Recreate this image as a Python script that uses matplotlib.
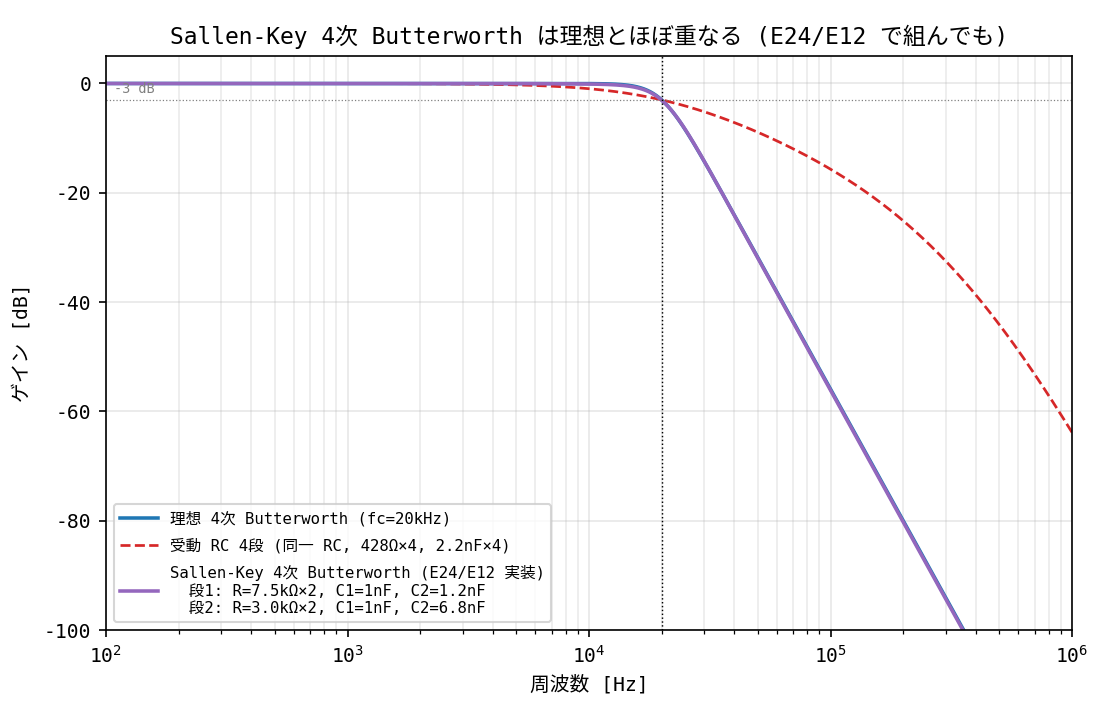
import numpy as np
import matplotlib
matplotlib.use("Agg")
import matplotlib.pyplot as plt
from matplotlib import font_manager as fm

avail = {f.name for f in fm.fontManager.ttflist}
fams = [f for f in ["DejaVu Sans Mono", "Noto Sans CJK JP", "DejaVu Sans"] if f in avail]
plt.rcParams['font.family'] = fams
plt.rcParams['axes.unicode_minus'] = False

fc_ideal = 20e3          # ideal Butterworth cutoff
order = 4
R_rc = 428.0             # passive RC ladder
C_rc = 2.2e-9
n_rc = 4
stage_R = [7.5e3, 3.0e3]
stage_C1 = [1e-9, 1e-9]
stage_C2 = [1.2e-9, 6.8e-9]
f_min, f_max = 1e2, 1e6
y_ticks = [0, -20, -40, -60, -80, -100]

f = np.logspace(np.log10(f_min), np.log10(f_max), 2000)
s = 2j * np.pi * f

H_ideal = 1 / np.sqrt(1 + (f / fc_ideal) ** (2 * order))
g_ideal = 20 * np.log10(H_ideal)

# RC ladder via ABCD matrices (series R, shunt C per section)
A = np.ones_like(s); B = np.zeros_like(s); Cm = np.zeros_like(s); D = np.ones_like(s)
for _ in range(n_rc):
    a2, b2, c2, d2 = 1 + s * C_rc * R_rc, R_rc, s * C_rc, 1
    A, B, Cm, D = A * a2 + B * c2, A * b2 + B * d2, Cm * a2 + D * c2, Cm * b2 + D * d2
g_rc = 20 * np.log10(np.abs(1 / A))

H_sk = np.ones_like(s)
for R, C1, C2 in zip(stage_R, stage_C1, stage_C2):
    H_sk = H_sk / (1 + s * 2 * R * C1 + s ** 2 * R * R * C1 * C2)
g_sk = 20 * np.log10(np.abs(H_sk))

fig = plt.figure(figsize=(7.4, 4.8), dpi=150)
ax = fig.add_axes([0.0955, 0.125, 0.8703, 0.797])
ax.semilogx(f, g_ideal, color='#1f77b4', lw=1.7, label='理想 4次 Butterworth (fc=20kHz)')
ax.semilogx(f, g_rc, color='#d62728', lw=1.3, ls='--',
            label='受動 RC 4段 (同一 RC, 428Ω×4, 2.2nF×4)')
ax.semilogx(f, g_sk, color='#9467bd', lw=1.7,
            label='Sallen-Key 4次 Butterworth (E24/E12 実装)\n  段1: R=7.5kΩ×2, C1=1nF, C2=1.2nF\n  段2: R=3.0kΩ×2, C1=1nF, C2=6.8nF')
ax.axhline(-3, color='gray', ls=':', lw=0.6)
ax.axvline(fc_ideal, color='black', ls=':', lw=0.7)
ax.text(f_min * 1.08, -2.2, '-3 dB', color='gray', fontsize=6.5, va='bottom')
ax.set_xlim(f_min, f_max)
ax.set_ylim(-100, 5)
ax.set_yticks(y_ticks)
ax.grid(True, which='major', alpha=0.3)
ax.grid(True, which='minor', axis='x', alpha=0.25)
ax.set_xlabel('周波数 [Hz]', fontsize=9.5)
ax.set_ylabel('ゲイン [dB]', fontsize=9.5, labelpad=6)
ax.set_title('Sallen-Key 4次 Butterworth は理想とほぼ重なる (E24/E12 で組んでも)', fontsize=11)
ax.tick_params(labelsize=9.5)
ax.legend(loc='lower left', fontsize=7.5, labelspacing=0.75, handlelength=2.4)
fig.savefig('out.png')
